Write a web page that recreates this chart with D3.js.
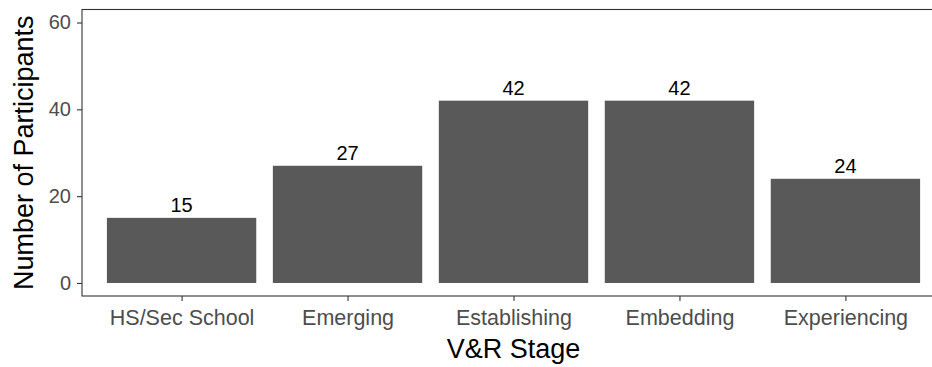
<!DOCTYPE html>
<html>
<head>
<meta charset="utf-8">
<script src="https://cdn.jsdelivr.net/npm/d3@7"></script>
<style>
  body { margin: 0; background: #fff; }
  svg { display: block; font-family: "Liberation Sans", Arial, sans-serif; }
</style>
</head>
<body>
<div id="chart"></div>
<script>
// data
const stages = ["HS/Sec School", "Emerging", "Establishing", "Embedding", "Experiencing"];
const participants = [15, 27, 42, 42, 24];
const yTicks = [0, 20, 40, 60];

const width = 932, height = 367;
const margin = { top: 9.5, right: -13, bottom: 71, left: 82 };
const innerW = width - margin.left - margin.right;
const innerH = height - margin.top - margin.bottom;

const svg = d3.select("#chart").append("svg")
  .attr("width", width)
  .attr("height", height);

const g = svg.append("g")
  .attr("transform", `translate(${margin.left},${margin.top})`);

// ggplot style discrete scale: 0.6 expansion on each side, bar width 0.9
const n = stages.length;
const step = innerW / (n - 1 + 1.2);
const xPos = d3.scalePoint().domain(stages).range([0.6 * step, innerW - 0.6 * step]);
const barW = 0.9 * step;

const y = d3.scaleLinear().domain([-3, 63]).range([innerH, 0]);

// bars
g.selectAll("rect.bar")
  .data(participants)
  .join("rect")
  .attr("class", "bar")
  .attr("x", (d, i) => xPos(stages[i]) - barW / 2)
  .attr("width", barW)
  .attr("y", d => y(d))
  .attr("height", d => y(0) - y(d))
  .attr("fill", "#595959");

// value labels
g.selectAll("text.val")
  .data(participants)
  .join("text")
  .attr("class", "val")
  .attr("x", (d, i) => xPos(stages[i]))
  .attr("y", d => y(d) - 6)
  .attr("text-anchor", "middle")
  .attr("font-size", 20)
  .attr("fill", "#000")
  .text(d => d);

// panel border
g.append("rect")
  .attr("x", 0).attr("y", 0)
  .attr("width", innerW).attr("height", innerH)
  .attr("fill", "none")
  .attr("stroke", "#333")
  .attr("stroke-width", 1.1);

// y axis
const yAxis = g.append("g")
  .call(d3.axisLeft(y).tickValues(yTicks).tickSize(5).tickPadding(6));
yAxis.select(".domain").remove();
yAxis.selectAll(".tick line").attr("stroke", "#333").attr("stroke-width", 1.1);
yAxis.selectAll(".tick text")
  .attr("fill", "#4d4d4d")
  .attr("font-size", 20)
  .attr("font-family", "Liberation Sans, Arial, sans-serif");

// x axis
const xAxis = g.append("g")
  .attr("transform", `translate(0,${innerH})`)
  .call(d3.axisBottom(xPos).tickSize(5).tickPadding(9));
xAxis.select(".domain").remove();
xAxis.selectAll(".tick line").attr("stroke", "#333").attr("stroke-width", 1.1);
xAxis.selectAll(".tick text")
  .attr("fill", "#4d4d4d")
  .attr("font-size", 21.5)
  .attr("font-family", "Liberation Sans, Arial, sans-serif");

// axis titles
svg.append("text")
  .attr("x", margin.left + innerW / 2)
  .attr("y", 358)
  .attr("text-anchor", "middle")
  .attr("font-size", 27)
  .attr("fill", "#000")
  .text("V&R Stage");

svg.append("text")
  .attr("transform", `translate(33,${margin.top + innerH / 2}) rotate(-90)`)
  .attr("text-anchor", "middle")
  .attr("font-size", 27)
  .attr("fill", "#000")
  .text("Number of Participants");
</script>
</body>
</html>
